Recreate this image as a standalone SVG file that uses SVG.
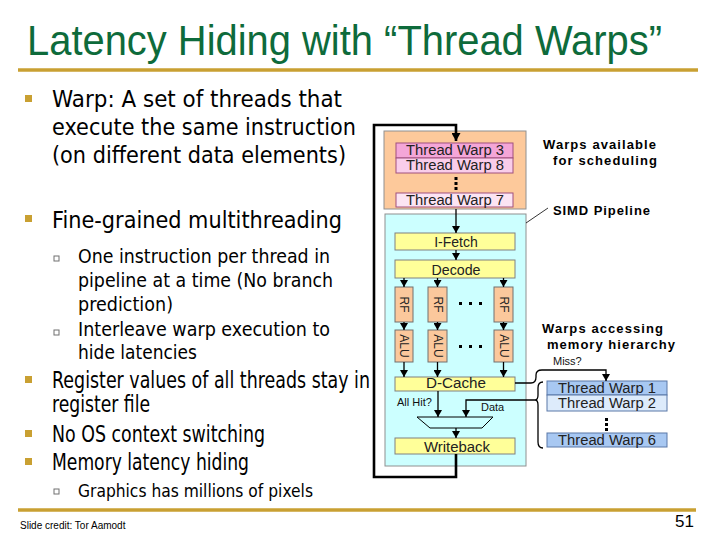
<svg xmlns="http://www.w3.org/2000/svg" width="720" height="540" viewBox="0 0 720 540">
<defs>
<marker id="ah" markerUnits="userSpaceOnUse" markerWidth="9" markerHeight="9" refX="8" refY="4.5" orient="auto">
<path d="M0,0 L8,4.5 L0,9 z" fill="#000"/>
</marker>
<marker id="ahs" markerUnits="userSpaceOnUse" markerWidth="8" markerHeight="8" refX="7" refY="4" orient="auto">
<path d="M0,0 L7,4 L0,8 z" fill="#000"/>
</marker>
</defs>
<style>
.title{font-family:"Liberation Sans",Arial,sans-serif;font-size:43px;fill:#0E6B3B}
.gold{stroke:#C9A032;stroke-width:3.5}
.bul{fill:#C9A032}
.sbul{fill:#fff;stroke:#707070;stroke-width:1}
.main{font-family:"DejaVu Sans",Verdana,sans-serif;font-size:23px;fill:#000}
.sub{font-family:"DejaVu Sans",Verdana,sans-serif;font-size:20px;fill:#000}
.sub2{font-family:"DejaVu Sans",Verdana,sans-serif;font-size:17px;fill:#000}
.bx{font-family:"Liberation Sans",Arial,sans-serif;font-size:14px;fill:#222;text-anchor:middle}
.rot{font-family:"Liberation Sans",Arial,sans-serif;font-size:12px;fill:#222;text-anchor:middle}
.sm{font-family:"Liberation Sans",Arial,sans-serif;font-size:11px;fill:#111}
.lbl{font-family:"Liberation Sans",Arial,sans-serif;font-size:13px;font-weight:bold;fill:#000}
.ln{fill:none;stroke:#000;stroke-width:1.3}
.thick{fill:none;stroke:#000;stroke-width:2.6}
.stage{fill:#FFFF99;stroke:#808080;stroke-width:1}
.unit{fill:#FBC89C;stroke:#707070;stroke-width:1}
.dot{fill:#000}
</style>
<rect width="720" height="540" fill="#fff"/>

<g id="title">
<text class="title" x="27" y="55" textLength="635" lengthAdjust="spacingAndGlyphs">Latency Hiding with “Thread Warps”</text>
<line class="gold" x1="18" y1="70" x2="698" y2="70"/>
</g>

<g id="bullets">
<rect class="bul" x="25" y="95" width="7" height="7"/>
<text class="main" x="52" y="107" textLength="290" lengthAdjust="spacingAndGlyphs">Warp: A set of threads that</text>
<text class="main" x="52" y="135" textLength="304" lengthAdjust="spacingAndGlyphs">execute the same instruction</text>
<text class="main" x="52" y="163" textLength="294" lengthAdjust="spacingAndGlyphs">(on different data elements)</text>
<rect class="bul" x="25" y="215" width="7" height="7"/>
<text class="main" x="52" y="228" textLength="290" lengthAdjust="spacingAndGlyphs">Fine-grained multithreading</text>
<rect class="sbul" x="54" y="256" width="5" height="5"/>
<text class="sub" x="78" y="263" textLength="252" lengthAdjust="spacingAndGlyphs">One instruction per thread in</text>
<text class="sub" x="78" y="287" textLength="255" lengthAdjust="spacingAndGlyphs">pipeline at a time (No branch</text>
<text class="sub" x="78" y="311" textLength="95" lengthAdjust="spacingAndGlyphs">prediction)</text>
<rect class="sbul" x="54" y="330" width="5" height="5"/>
<text class="sub" x="78" y="336" textLength="252" lengthAdjust="spacingAndGlyphs">Interleave warp execution to</text>
<text class="sub" x="78" y="359" textLength="119" lengthAdjust="spacingAndGlyphs">hide latencies</text>
<rect class="bul" x="25" y="376" width="7" height="7"/>
<text class="main" x="52" y="388" textLength="318" lengthAdjust="spacingAndGlyphs">Register values of all threads stay in</text>
<text class="main" x="52" y="412" textLength="98" lengthAdjust="spacingAndGlyphs">register file</text>
<rect class="bul" x="25" y="430" width="7" height="7"/>
<text class="main" x="52" y="442" textLength="213" lengthAdjust="spacingAndGlyphs">No OS context switching</text>
<rect class="bul" x="25" y="458" width="7" height="7"/>
<text class="main" x="52" y="470" textLength="197" lengthAdjust="spacingAndGlyphs">Memory latency hiding</text>
<rect class="sbul" x="54" y="489" width="5" height="5"/>
<text class="sub2" x="78" y="497" textLength="235" lengthAdjust="spacingAndGlyphs">Graphics has millions of pixels</text>
</g>

<g id="footer">
<line class="gold" x1="18" y1="510" x2="696" y2="510"/>
<text x="20" y="529" font-family="Liberation Sans, Arial, sans-serif" font-size="10" fill="#000">Slide credit: Tor Aamodt</text>
<text x="694" y="527" font-family="Liberation Sans, Arial, sans-serif" font-size="17" fill="#000" text-anchor="end">51</text>
</g>

<g id="warp-pool">
<rect x="384" y="131" width="142" height="78" fill="#FDC99B" stroke="#909090" stroke-width="1"/>
<rect x="396" y="143" width="117" height="15" fill="#F4A6D8" stroke="#A0507F" stroke-width="1"/>
<text class="bx" x="455" y="155" textLength="98" lengthAdjust="spacingAndGlyphs">Thread Warp 3</text>
<rect x="396" y="158" width="117" height="15" fill="#F9CDEA" stroke="#A0507F" stroke-width="1"/>
<text class="bx" x="455" y="170" textLength="98" lengthAdjust="spacingAndGlyphs">Thread Warp 8</text>
<rect class="dot" x="454.5" y="177" width="3" height="3"/>
<rect class="dot" x="454.5" y="182" width="3" height="3"/>
<rect class="dot" x="454.5" y="187" width="3" height="3"/>
<rect x="396" y="193" width="117" height="14" fill="#FCE4F3" stroke="#A0507F" stroke-width="1"/>
<text class="bx" x="455" y="205" textLength="98" lengthAdjust="spacingAndGlyphs">Thread Warp 7</text>
</g>

<g id="simd-pipeline">
<rect x="385" y="214" width="141" height="252" fill="#CCFFFF" stroke="#909090" stroke-width="1"/>
</g>

<g id="ifetch">
<rect class="stage" x="395" y="233" width="120" height="17"/>
<text class="bx" x="456" y="247">I-Fetch</text>
</g>
<g id="decode">
<rect class="stage" x="395" y="260" width="120" height="18"/>
<text class="bx" x="456" y="275" textLength="49" lengthAdjust="spacingAndGlyphs">Decode</text>
</g>

<g id="rf1"><rect class="unit" x="395" y="287" width="18" height="35"/><text class="rot" transform="translate(404,304.5) rotate(90)" y="4">RF</text></g>
<g id="rf2"><rect class="unit" x="428" y="287" width="19" height="35"/><text class="rot" transform="translate(437.5,304.5) rotate(90)" y="4">RF</text></g>
<g id="rf3"><rect class="unit" x="494" y="287" width="19" height="35"/><text class="rot" transform="translate(503.5,304.5) rotate(90)" y="4">RF</text></g>
<g id="alu1"><rect class="unit" x="395" y="330" width="18" height="32"/><text class="rot" transform="translate(404,346) rotate(90)" y="4">ALU</text></g>
<g id="alu2"><rect class="unit" x="428" y="330" width="19" height="32"/><text class="rot" transform="translate(437.5,346) rotate(90)" y="4">ALU</text></g>
<g id="alu3"><rect class="unit" x="494" y="330" width="19" height="32"/><text class="rot" transform="translate(503.5,346) rotate(90)" y="4">ALU</text></g>
<g id="ellipses">
<rect class="dot" x="459" y="302" width="3" height="3"/><rect class="dot" x="469" y="302" width="3" height="3"/><rect class="dot" x="479" y="302" width="3" height="3"/>
<rect class="dot" x="459" y="345" width="3" height="3"/><rect class="dot" x="469" y="345" width="3" height="3"/><rect class="dot" x="479" y="345" width="3" height="3"/>
</g>

<g id="dcache">
<rect class="stage" x="395" y="377" width="120" height="14"/>
<text class="bx" x="456" y="388" font-size="13" textLength="60" lengthAdjust="spacingAndGlyphs">D-Cache</text>
</g>
<g id="mux">
<path d="M417,417 L493,417 L482,428 L430,428 Z" fill="none" stroke="#000" stroke-width="1"/>
</g>
<g id="writeback">
<rect class="stage" x="395" y="438" width="120" height="16"/>
<text class="bx" x="457" y="452" textLength="66" lengthAdjust="spacingAndGlyphs">Writeback</text>
</g>

<g id="mem-pool">
<rect x="547" y="381" width="120" height="14" fill="#A8C8F2" stroke="#5A78A8" stroke-width="1"/>
<text class="bx" x="607" y="393" textLength="98" lengthAdjust="spacingAndGlyphs">Thread Warp 1</text>
<rect x="547" y="395" width="120" height="16" fill="#DDEBFB" stroke="#5A78A8" stroke-width="1"/>
<text class="bx" x="607" y="408" textLength="98" lengthAdjust="spacingAndGlyphs">Thread Warp 2</text>
<rect class="dot" x="605" y="418" width="3" height="3"/>
<rect class="dot" x="605" y="423" width="3" height="3"/>
<rect class="dot" x="605" y="428" width="3" height="3"/>
<rect x="547" y="433" width="120" height="14" fill="#A8C8F2" stroke="#5A78A8" stroke-width="1"/>
<text class="bx" x="607" y="445" textLength="98" lengthAdjust="spacingAndGlyphs">Thread Warp 6</text>
</g>

<g id="labels">
<text class="lbl" x="543" y="149" textLength="113" lengthAdjust="spacing">Warps available</text>
<text class="lbl" x="553" y="165" textLength="104" lengthAdjust="spacing">for scheduling</text>
<text class="lbl" x="553" y="215" textLength="97" lengthAdjust="spacing">SIMD Pipeline</text>
<text class="lbl" x="542" y="333" textLength="121" lengthAdjust="spacing">Warps accessing</text>
<text class="lbl" x="547" y="349" textLength="128" lengthAdjust="spacing">memory hierarchy</text>
<text class="sm" x="553" y="365">Miss?</text>
<text class="sm" x="397" y="406">All Hit?</text>
<text class="sm" x="481" y="411">Data</text>
</g>

<g id="connectors">
<path class="thick" d="M456,454 L456,477 L374,477 L374,125 L456,125 L456,141" marker-end="url(#ah)"/>
<line class="ln" x1="456" y1="209" x2="456" y2="233" marker-end="url(#ahs)"/>
<line class="ln" x1="456" y1="250" x2="456" y2="260" marker-end="url(#ahs)"/>
<line class="ln" x1="404" y1="278" x2="404" y2="287" marker-end="url(#ahs)"/>
<line class="ln" x1="437.5" y1="278" x2="437.5" y2="287" marker-end="url(#ahs)"/>
<line class="ln" x1="503.5" y1="278" x2="503.5" y2="287" marker-end="url(#ahs)"/>
<line class="ln" x1="404" y1="322" x2="404" y2="330" marker-end="url(#ahs)"/>
<line class="ln" x1="437.5" y1="322" x2="437.5" y2="330" marker-end="url(#ahs)"/>
<line class="ln" x1="503.5" y1="322" x2="503.5" y2="330" marker-end="url(#ahs)"/>
<line class="ln" x1="404" y1="362" x2="404" y2="377" marker-end="url(#ahs)"/>
<line class="ln" x1="437.5" y1="362" x2="437.5" y2="377" marker-end="url(#ahs)"/>
<line class="ln" x1="503.5" y1="362" x2="503.5" y2="377" marker-end="url(#ahs)"/>
<line class="ln" x1="438" y1="391" x2="438" y2="417" marker-end="url(#ahs)"/>
<path class="ln" d="M535,400 L466,400 L466,417" marker-end="url(#ahs)"/>
<line class="ln" x1="456" y1="428" x2="456" y2="438" marker-end="url(#ahs)"/>
<path class="ln" d="M515,383 L531,383 C535,383 536,381 536,377 L536,375 C536,371 538,370 542,370 L606,370 L606,381" marker-end="url(#ahs)"/>
<path class="ln" d="M543,382 C539,382 538,384 538,388 L538,395 C538,398 537,400 535,400 C537,400 538,402 538,405 L538,442 C538,446 539,448 543,448"/>
<line x1="526" y1="223" x2="548" y2="208" stroke="#000" stroke-width="0.8"/>
</g>
</svg>
